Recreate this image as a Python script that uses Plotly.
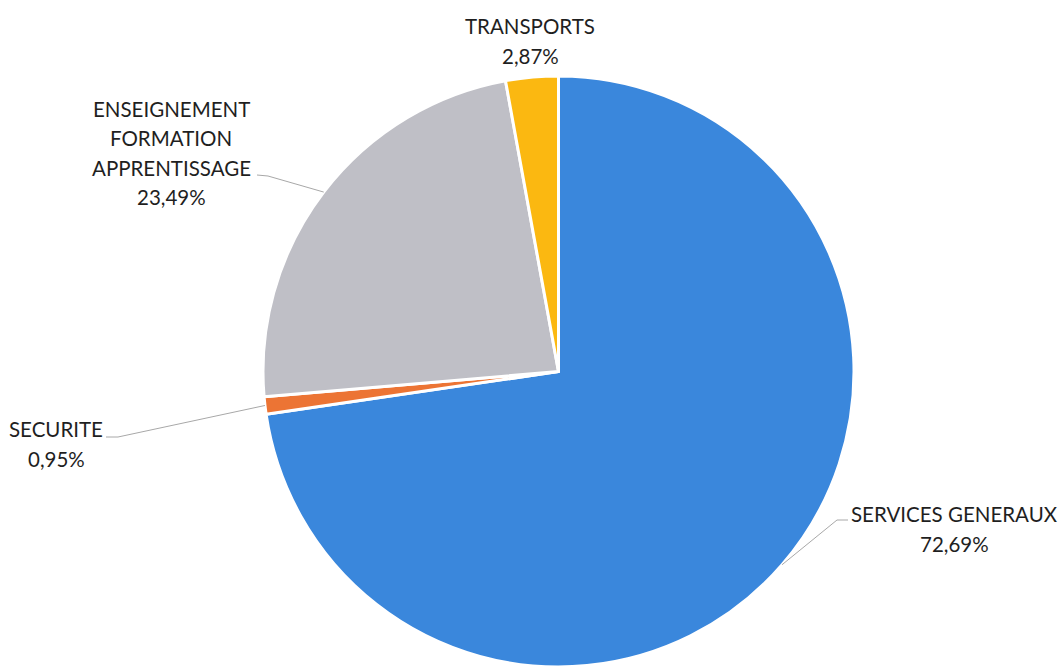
import math
import plotly.graph_objects as go

# Budget breakdown by sector
categories = ["SERVICES GENERAUX", "SECURITE", "ENSEIGNEMENT FORMATION APPRENTISSAGE", "TRANSPORTS"]
shares = [72.69, 0.95, 23.49, 2.87]
colors = ["#3a87dc", "#ec7434", "#bfbfc6", "#fbb811"]

W, H = 1060, 671
CX, CY, R = 558.5, 371.5, 295.5   # pie centre and radius in pixels

def px(x):
    return x / W

def py(y):
    return 1 - y / H

fig = go.Figure(go.Pie(
    labels=categories,
    values=shares,
    sort=False,
    direction="clockwise",
    rotation=0,
    marker=dict(colors=colors, line=dict(color="white", width=3)),
    textinfo="none",
    hoverinfo="label+percent",
    domain=dict(x=[px(CX - R), px(CX + R)], y=[py(CY + R), py(CY - R)]),
    showlegend=False,
))

def fmt(v):
    return f"{v:.2f}".replace(".", ",") + "%"

# label text blocks: lines, centre x, first-line centre y, leader elbow points
label_layout = {
    "SERVICES GENERAUX": dict(lines=["SERVICES GENERAUX"], x=954, y=514,
                              leader=[(848, 520), (837, 520)]),
    "SECURITE": dict(lines=["SECURITE"], x=56, y=429,
                     leader=[(106, 437), (118, 437)]),
    "ENSEIGNEMENT FORMATION APPRENTISSAGE": dict(
        lines=["ENSEIGNEMENT", "FORMATION", "APPRENTISSAGE"], x=171, y=109,
        leader=[(257, 175), (268, 176)]),
    "TRANSPORTS": dict(lines=["TRANSPORTS"], x=530, y=26, leader=None),
}

LINE_GAP = 29.5
font = dict(family="Lato", size=20.5, color="#1f1f1f")

total = sum(shares)
cum = 0.0
for cat, val in zip(categories, shares):
    mid = (cum + val / 2) / total * 2 * math.pi
    cum += val
    spec = label_layout[cat]
    rows = spec["lines"] + [fmt(val)]
    for i, row in enumerate(rows):
        fig.add_annotation(
            x=px(spec["x"]), y=py(spec["y"] + i * LINE_GAP),
            xref="paper", yref="paper", text=row, showarrow=False,
            xanchor="center", yanchor="middle", font=font,
        )
    if spec["leader"]:
        ex = CX + R * math.sin(mid)
        ey = CY - R * math.cos(mid)
        pts = spec["leader"] + [(ex, ey)]
        path = "M " + " L ".join(f"{px(a)},{py(b)}" for a, b in pts)
        fig.add_shape(type="path", path=path, xref="paper", yref="paper",
                      line=dict(color="#a8a8a8", width=1))

fig.update_layout(
    width=W, height=H, autosize=False,
    margin=dict(l=0, r=0, t=0, b=0),
    paper_bgcolor="white", plot_bgcolor="white",
)

fig.write_html("out.html")
